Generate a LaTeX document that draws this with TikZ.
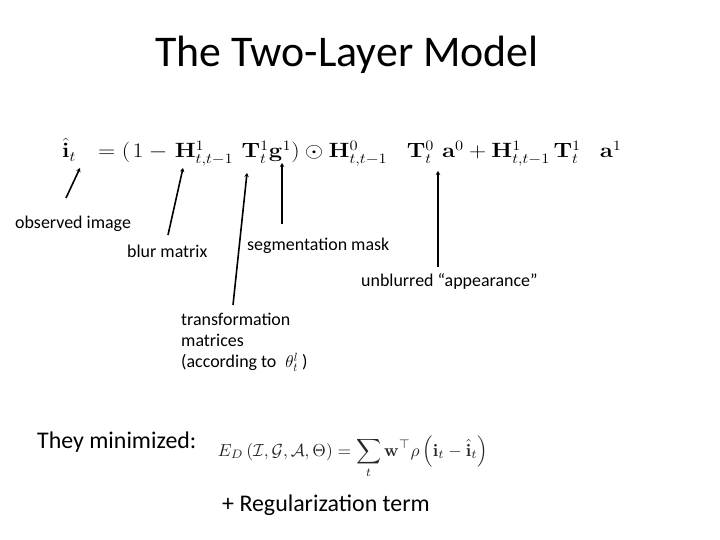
\documentclass[tikz,border=0pt]{standalone}
\usepackage{amsmath,amssymb}
\usepackage{graphicx}
\usepackage[no-math]{fontspec}
\setmainfont{Carlito}
\usetikzlibrary{arrows.meta}

\tikzset{
  label/.style={inner sep=0pt, anchor=base west, font=\fontsize{18}{21}\selectfont},
  pointer/.style={line width=1.6bp, -{Stealth[length=4bp,width=4.5bp]}}
}

\begin{document}
\begin{tikzpicture}[x=1bp,y=1bp]
                            \useasboundingbox [fill=white] (0.000000,0.000000) rectangle (720.000000,540.000000);
                            
                            % Title
                            \node (title) [inner sep=0pt, anchor=base, font=\fontsize{44}{50}\selectfont] at (347.000000,473.000000) {The Two-Layer Model};%
                            
                            % The two-layer equation
                            \node (eqn) [inner sep=0pt, anchor=base west] at (62.000000,382.000000)
                              {\fontsize{21}{25}\selectfont \scalebox{1.15}[1]{$\hat{\mathbf{i}}_t\hspace{13.5bp} = (\hspace{2bp}1 -\hspace{2bp} \mathbf{H}^1_{t,t-1}\hspace{7.2bp}\mathbf{T}^1_t\mathbf{g}^1) \odot \mathbf{H}^0_{t,t-1}\hspace{17bp}\mathbf{T}^0_t\hspace{7bp}\mathbf{a}^0 + \mathbf{H}^1_{t,t-1}\hspace{3.2bp}\mathbf{T}^1_t\hspace{16.5bp}\mathbf{a}^1$}};%
                            
                            % Marking point observed image
                            \node (obs) [label] at (15.000000,311.000000) {observed image};%
                            \coordinate (obsfrom) at (66.000000,342.000000);%
                            \coordinate (obsto) at (80.000000,372.000000);%
                            
                            % Marking point blur matrix
                            \node (blur) [label] at (127.000000,282.000000) {blur matrix};%
                            \coordinate (blurfrom) at (168.000000,305.000000);%
                            \coordinate (blurto) at (183.000000,372.000000);%
                            
                            % Marking point segmentation mask
                            \node (seg) [label] at (247.000000,289.000000) {segmentation mask};%
                            \coordinate (segfrom) at (282.000000,316.000000);%
                            \coordinate (segto) at (282.000000,377.000000);%
                            
                            % Marking point unblurred appearance
                            \node (app) [label] at (361.000000,253.000000) {unblurred “appearance"};%
                            \coordinate (appfrom) at (438.000000,273.000000);%
                            \coordinate (appto) at (438.000000,369.000000);%
                            
                            % Marking point transformation matrices
                            \node (trans) [label, anchor=north west, align=left] at (181.000000,227.000000)
                              {transformation\\matrices\\(according to\hspace{9bp}$\theta^{l}_{t}$\hspace{4bp})};%
                            \coordinate (transfrom) at (233.000000,235.000000);%
                            \coordinate (transto) at (247.000000,367.000000);%
                            
                            % Drawing pointers
                            \draw [pointer] (obsfrom) -- (obsto);%
                            \draw [pointer] (blurfrom) -- (blurto);%
                            \draw [pointer] (transfrom) -- (transto);%
                            \draw [pointer] (segfrom) -- (segto);%
                            \draw [pointer] (appfrom) -- (appto);%
                            
                            % Energy term
                            \node (min) [label, font=\fontsize{24}{28}\selectfont] at (37.000000,91.000000) {They minimized:};%
                            \node (energy) [inner sep=0pt, text=black!85] at (353.000000,83.000000)
                              {\resizebox{270bp}{!}{$\displaystyle E_D\left(\mathcal{I},\mathcal{G},\mathcal{A},\Theta\right) = \sum_t \mathbf{w}^{\top}\rho\left(\mathbf{i}_t - \hat{\mathbf{i}}_t\right)$}};%
                            \node (reg) [label, font=\fontsize{24}{28}\selectfont] at (222.000000,28.000000) {+ Regularization term};%
                        \end{tikzpicture}
\end{document}
